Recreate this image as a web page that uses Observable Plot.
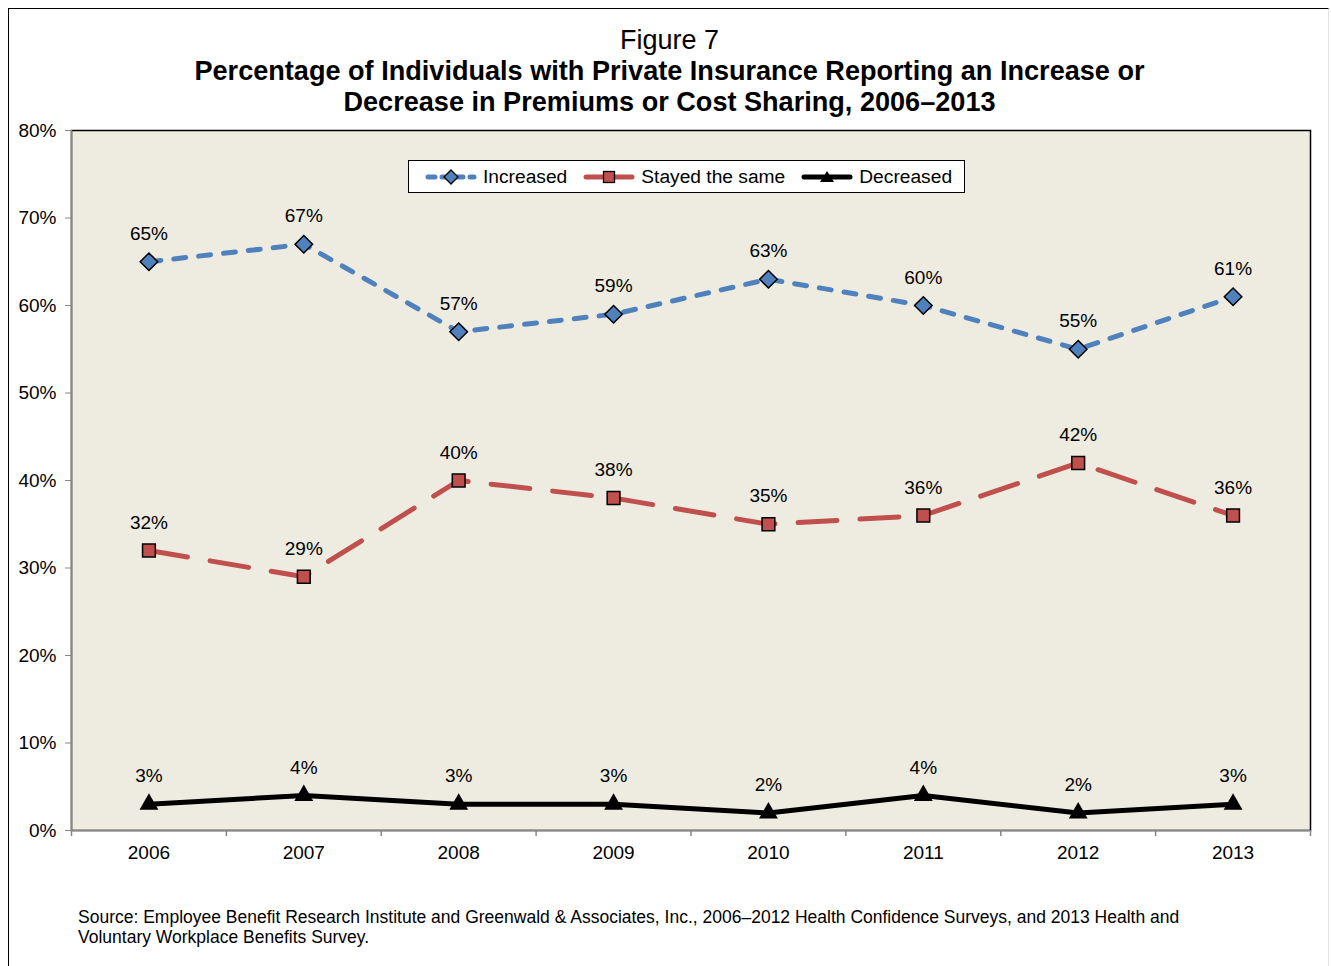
<!DOCTYPE html>
<html>
<head>
<meta charset="utf-8">
<script src="https://cdn.jsdelivr.net/npm/d3@7"></script>
<script src="https://cdn.jsdelivr.net/npm/@observablehq/plot@0.6"></script>
<style>
  html, body { margin: 0; padding: 0; background: #fff; overflow: hidden; }
  body { width: 1331px; height: 966px; position: relative; font-family: Arial, "Liberation Sans", sans-serif; }
  #frame { position: absolute; left: 8px; top: 8px; width: 1321px; height: 1000px; border-left: 1.5px solid #000; border-top: 1.5px solid #000; border-right: 1px solid #e3e3e3; box-sizing: border-box; }
  #title { position: absolute; left: 8px; top: 25px; width: 1323px; text-align: center; color: #000; }
  #title .fig { font-size: 27px; line-height: 30px; }
  #title .main { font-size: 27.1px; line-height: 31px; font-weight: bold; }
  #chart { position: absolute; left: 0; top: 120px; }
  #legend { position: absolute; left: 408px; top: 160px; width: 557px; height: 33px; box-sizing: border-box; border: 1.5px solid #000; background: #fff; display: flex; align-items: center; padding-left: 16px; font-size: 19.2px; color: #000; white-space: nowrap; }
  #legend .item { display: flex; align-items: center; margin-right: 16px; }
  #legend svg { margin-right: 6px; display: block; }
  #caption { position: absolute; left: 78px; top: 907px; font-size: 17.5px; line-height: 20px; color: #000; }
</style>
</head>
<body>
<div id="frame"></div>
<div id="title">
  <div class="fig">Figure 7</div>
  <div class="main">Percentage of Individuals with Private Insurance Reporting an Increase or</div>
  <div class="main">Decrease in Premiums or Cost Sharing, 2006–2013</div>
</div>
<div id="chart"></div>
<div id="legend"></div>
<div id="caption">Source: Employee Benefit Research Institute and Greenwald &amp; Associates, Inc., 2006–2012 Health Confidence Surveys, and 2013 Health and<br>Voluntary Workplace Benefits Survey.</div>
<script>
// ---- data ----
const years = ["2006", "2007", "2008", "2009", "2010", "2011", "2012", "2013"];
const increased = [65, 67, 57, 59, 63, 60, 55, 61];
const stayedSame = [32, 29, 40, 38, 35, 36, 42, 36];
const decreased = [3, 4, 3, 3, 2, 4, 2, 3];
const yTicks = [0, 10, 20, 30, 40, 50, 60, 70, 80];
const seriesNames = ["Increased", "Stayed the same", "Decreased"];

// ---- styling ----
const blue = "#4F81BD", red = "#C0504D", black = "#000000";
const bg = "#EEECE1", axisGray = "#868686";
const W = 1331, H = 770, mL = 71, mR = 21, mT = 10, mB = 60;
const step = (W - mL - mR) / years.length;

const rows = (vals) => years.map((y, i) => ({year: y, value: vals[i]}));
const inc = rows(increased), same = rows(stayedSame), dec = rows(decreased);

const fmt = d => d + "%";
const labelOpts = {x: "year", y: "value", text: d => fmt(d.value), dy: -28, fontSize: 19, fill: "#000"};

const plot = Plot.plot({
  width: W, height: H,
  marginLeft: mL, marginRight: mR, marginTop: mT, marginBottom: mB,
  style: {fontFamily: "Arial, 'Liberation Sans', sans-serif", fontSize: "19px", background: "transparent", overflow: "visible"},
  x: {type: "point", domain: years, padding: 0.5, round: false},
  y: {domain: [0, 80]},
  marks: [
    Plot.frame({fill: bg, stroke: "#000", strokeWidth: 1.5}),
    Plot.ruleY([0], {stroke: axisGray, strokeWidth: 1.5}),
    Plot.ruleX([years[0]], {x: d => d, dx: -step / 2, stroke: axisGray, strokeWidth: 1.5}),
    Plot.ruleX(years, {x: d => d, y1: 0, y2: 0, dx: -step / 2, insetBottom: -6, stroke: axisGray, strokeWidth: 1.5}),
    Plot.ruleX([years[years.length - 1]], {x: d => d, y1: 0, y2: 0, dx: step / 2, insetBottom: -6, stroke: axisGray, strokeWidth: 1.5}),
    Plot.axisY({ticks: yTicks, tickFormat: fmt, tickSize: 6, tickPadding: 9, stroke: axisGray, fill: "#000", fontSize: 19, label: null}),
    Plot.axisX({tickSize: 0, tickPadding: 15, fill: "#000", fontSize: 19, label: null}),
    Plot.line(inc, {x: "year", y: "value", stroke: blue, strokeWidth: 5, strokeDasharray: "12,13", strokeLinecap: "round"}),
    Plot.line(same, {x: "year", y: "value", stroke: red, strokeWidth: 5, strokeDasharray: "39,23", strokeLinecap: "round"}),
    Plot.line(dec, {x: "year", y: "value", stroke: black, strokeWidth: 5}),
    Plot.dot(inc, {x: "year", y: "value", symbol: "diamond2", r: 7.9, fill: blue, stroke: "#000", strokeWidth: 1.5}),
    Plot.dot(same, {x: "year", y: "value", symbol: "square", r: 7.2, fill: red, stroke: "#000", strokeWidth: 1.5}),
    Plot.dot(dec, {x: "year", y: "value", symbol: "triangle", r: 7, fill: black, stroke: "none"}),
    Plot.text(inc, labelOpts),
    Plot.text(same, labelOpts),
    Plot.text(dec, labelOpts)
  ]
});
document.getElementById("chart").appendChild(plot);

// ---- legend ----
const legendDefs = [
  {name: seriesNames[0], color: blue, dash: "7,7", cap: "round", marker: "diamond"},
  {name: seriesNames[1], color: red, dash: null, cap: "round", marker: "square"},
  {name: seriesNames[2], color: black, dash: null, cap: "round", marker: "triangle"}
];
const legend = document.getElementById("legend");
for (const d of legendDefs) {
  const item = document.createElement("div");
  item.className = "item";
  const sw = 52, sh = 20, cx = sw / 2, cy = sh / 2;
  let marker = "";
  if (d.marker === "diamond") marker = `<path d="M${cx},${cy - 7} L${cx + 7},${cy} L${cx},${cy + 7} L${cx - 7},${cy} Z" fill="${d.color}" stroke="#000" stroke-width="1.3"/>`;
  if (d.marker === "square") marker = `<rect x="${cx - 5.5}" y="${cy - 5.5}" width="11" height="11" fill="${d.color}" stroke="#000" stroke-width="1.3"/>`;
  if (d.marker === "triangle") marker = `<path d="M${cx},${cy - 6} L${cx + 7},${cy + 5} L${cx - 7},${cy + 5} Z" fill="#000"/>`;
  item.innerHTML = `<svg width="${sw}" height="${sh}"><line x1="3" x2="${sw - 3}" y1="${cy}" y2="${cy}" stroke="${d.color}" stroke-width="5" stroke-linecap="${d.cap}" ${d.dash ? `stroke-dasharray="${d.dash}"` : ""}/>${marker}</svg><span>${d.name}</span>`;
  legend.appendChild(item);
}
</script>
</body>
</html>
